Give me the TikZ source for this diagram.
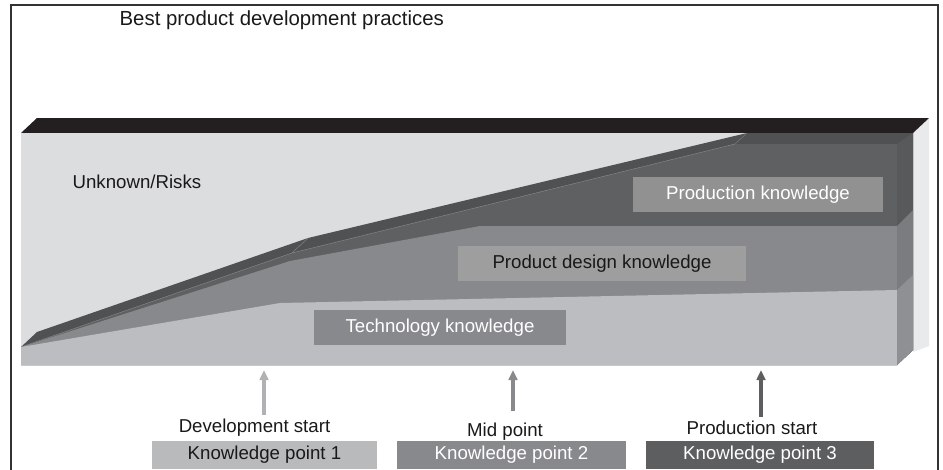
\documentclass[tikz,border=0pt]{standalone}
\usepackage{fontspec}
\setmainfont{Liberation Sans}
\usepackage{xcolor}
\usepackage{tikz}
\usetikzlibrary{positioning,arrows.meta}

\definecolor{riskgray}{HTML}{DCDDDF}
\definecolor{sidegray}{HTML}{E9EAEB}
\definecolor{topblack}{HTML}{231F20}
\definecolor{prodtop}{HTML}{505153}
\definecolor{prodfront}{HTML}{5F6062}
\definecolor{prodside}{HTML}{58595B}
\definecolor{designfront}{HTML}{88898C}
\definecolor{designside}{HTML}{7B7C7F}
\definecolor{techfront}{HTML}{BCBDC0}
\definecolor{techside}{HTML}{8F9093}
\definecolor{kpone}{HTML}{B9BABC}
\definecolor{kptwo}{HTML}{88898C}
\definecolor{kpthree}{HTML}{5D5E60}

\tikzset{
  label/.style={inner sep=1pt, font=\fontsize{14}{16}\selectfont, text=black!90},
  kbox/.style={label, minimum height=26.25pt, inner sep=0pt},
  kparrow/.style={line width=2.4pt, -{Triangle[length=7.5pt,width=6.5pt]}, shorten <=2pt},
  edge/.style={line width=0.3pt, draw=#1},
}

\begin{document}
\begin{tikzpicture}[x=0.75pt, y=-0.75pt]
\useasboundingbox (0,0) rectangle (943,469);
\draw[line width=1.1pt, draw=black!80] (11,475) -- (11,5) -- (938,5) -- (938,475);

\node[label, anchor=west, font=\fontsize{15.3}{18}\selectfont] (title) at (118,20) {Best product development practices};

% slab
\fill[sidegray] (913,133) -- (929,118) -- (929,346) -- (913,352) -- cycle;
\fill[topblack] (21,133) -- (37,118) -- (929,118) -- (913,133) -- cycle;
\fill[riskgray] (21,133) -- (913,133) -- (913,350) -- (897,365) -- (21,365) -- cycle;

\fill[prodtop] (21,347) -- (37,332) -- (308,238) -- (747,133) -- (913,133) -- (913,350) -- (897,365) -- (21,365) -- cycle;
\fill[prodfront] (21,347) -- (292,253) -- (735,144) -- (897,144) -- (897,365) -- (21,365) -- cycle;
\fill[prodside] (897,144) -- (913,133) -- (913,350) -- (897,365) -- cycle;
\draw[edge=black!45] (21,347) -- (292,253) -- (735,144);
\draw[edge=black!45] (292,253) -- (308,238);
\draw[edge=black!50] (735,144) -- (747,133);

\fill[designfront] (21,347) -- (290,261) -- (480,226) -- (897,226) -- (897,365) -- (21,365) -- cycle;
\fill[designside] (897,226) -- (913,210) -- (913,350) -- (897,365) -- cycle;

\fill[techfront] (21,347) -- (280,303) -- (897,290) -- (897,365) -- (21,365) -- cycle;
\fill[techside] (897,290) -- (913,275) -- (913,350) -- (897,365) -- cycle;

\node[label, anchor=west] (risks) at (71,182) {Unknown/Risks};
\node[kbox, fill=designfront, text=white, minimum width=189pt] (tech) at (440,327.5) {Technology knowledge};
\node[kbox, fill=black!38, minimum width=216pt] (design) at (602,263.5) {Product design knowledge};
\node[kbox, fill=black!43, text=white, minimum width=187.5pt] (prod) at (758,194.5) {Production knowledge};

% knowledge points
\node[kbox, fill=kpone, minimum width=168.75pt, minimum height=21pt] (kp1) at (264.5,455) {Knowledge point 1};
\node[kbox, fill=kptwo, text=white, minimum width=171.75pt, minimum height=21pt] (kp2) at (511.5,455) {Knowledge point 2};
\node[kbox, fill=kpthree, text=white, minimum width=171pt, minimum height=21pt] (kp3) at (760,455) {Knowledge point 3};

\node[label] (devstart) at (254.5,428) {Development start};
\node[label] (midpt) at (505,432) {Mid point};
\node[label] (prodstart) at (752,428) {Production start};

\coordinate (a1) at (264,370);
\coordinate (a2) at (513,370);
\coordinate (a3) at (761,370);
\draw[kparrow, draw=kpone!95!black, fill=kpone!95!black] (devstart.north -| a1) -- (a1);
\draw[kparrow, draw=kptwo, fill=kptwo] (midpt.north -| a2) ++(0,-8) -- (a2);
\draw[kparrow, draw=kpthree, fill=kpthree] (prodstart.north -| a3) -- (a3);
\end{tikzpicture}
\end{document}
